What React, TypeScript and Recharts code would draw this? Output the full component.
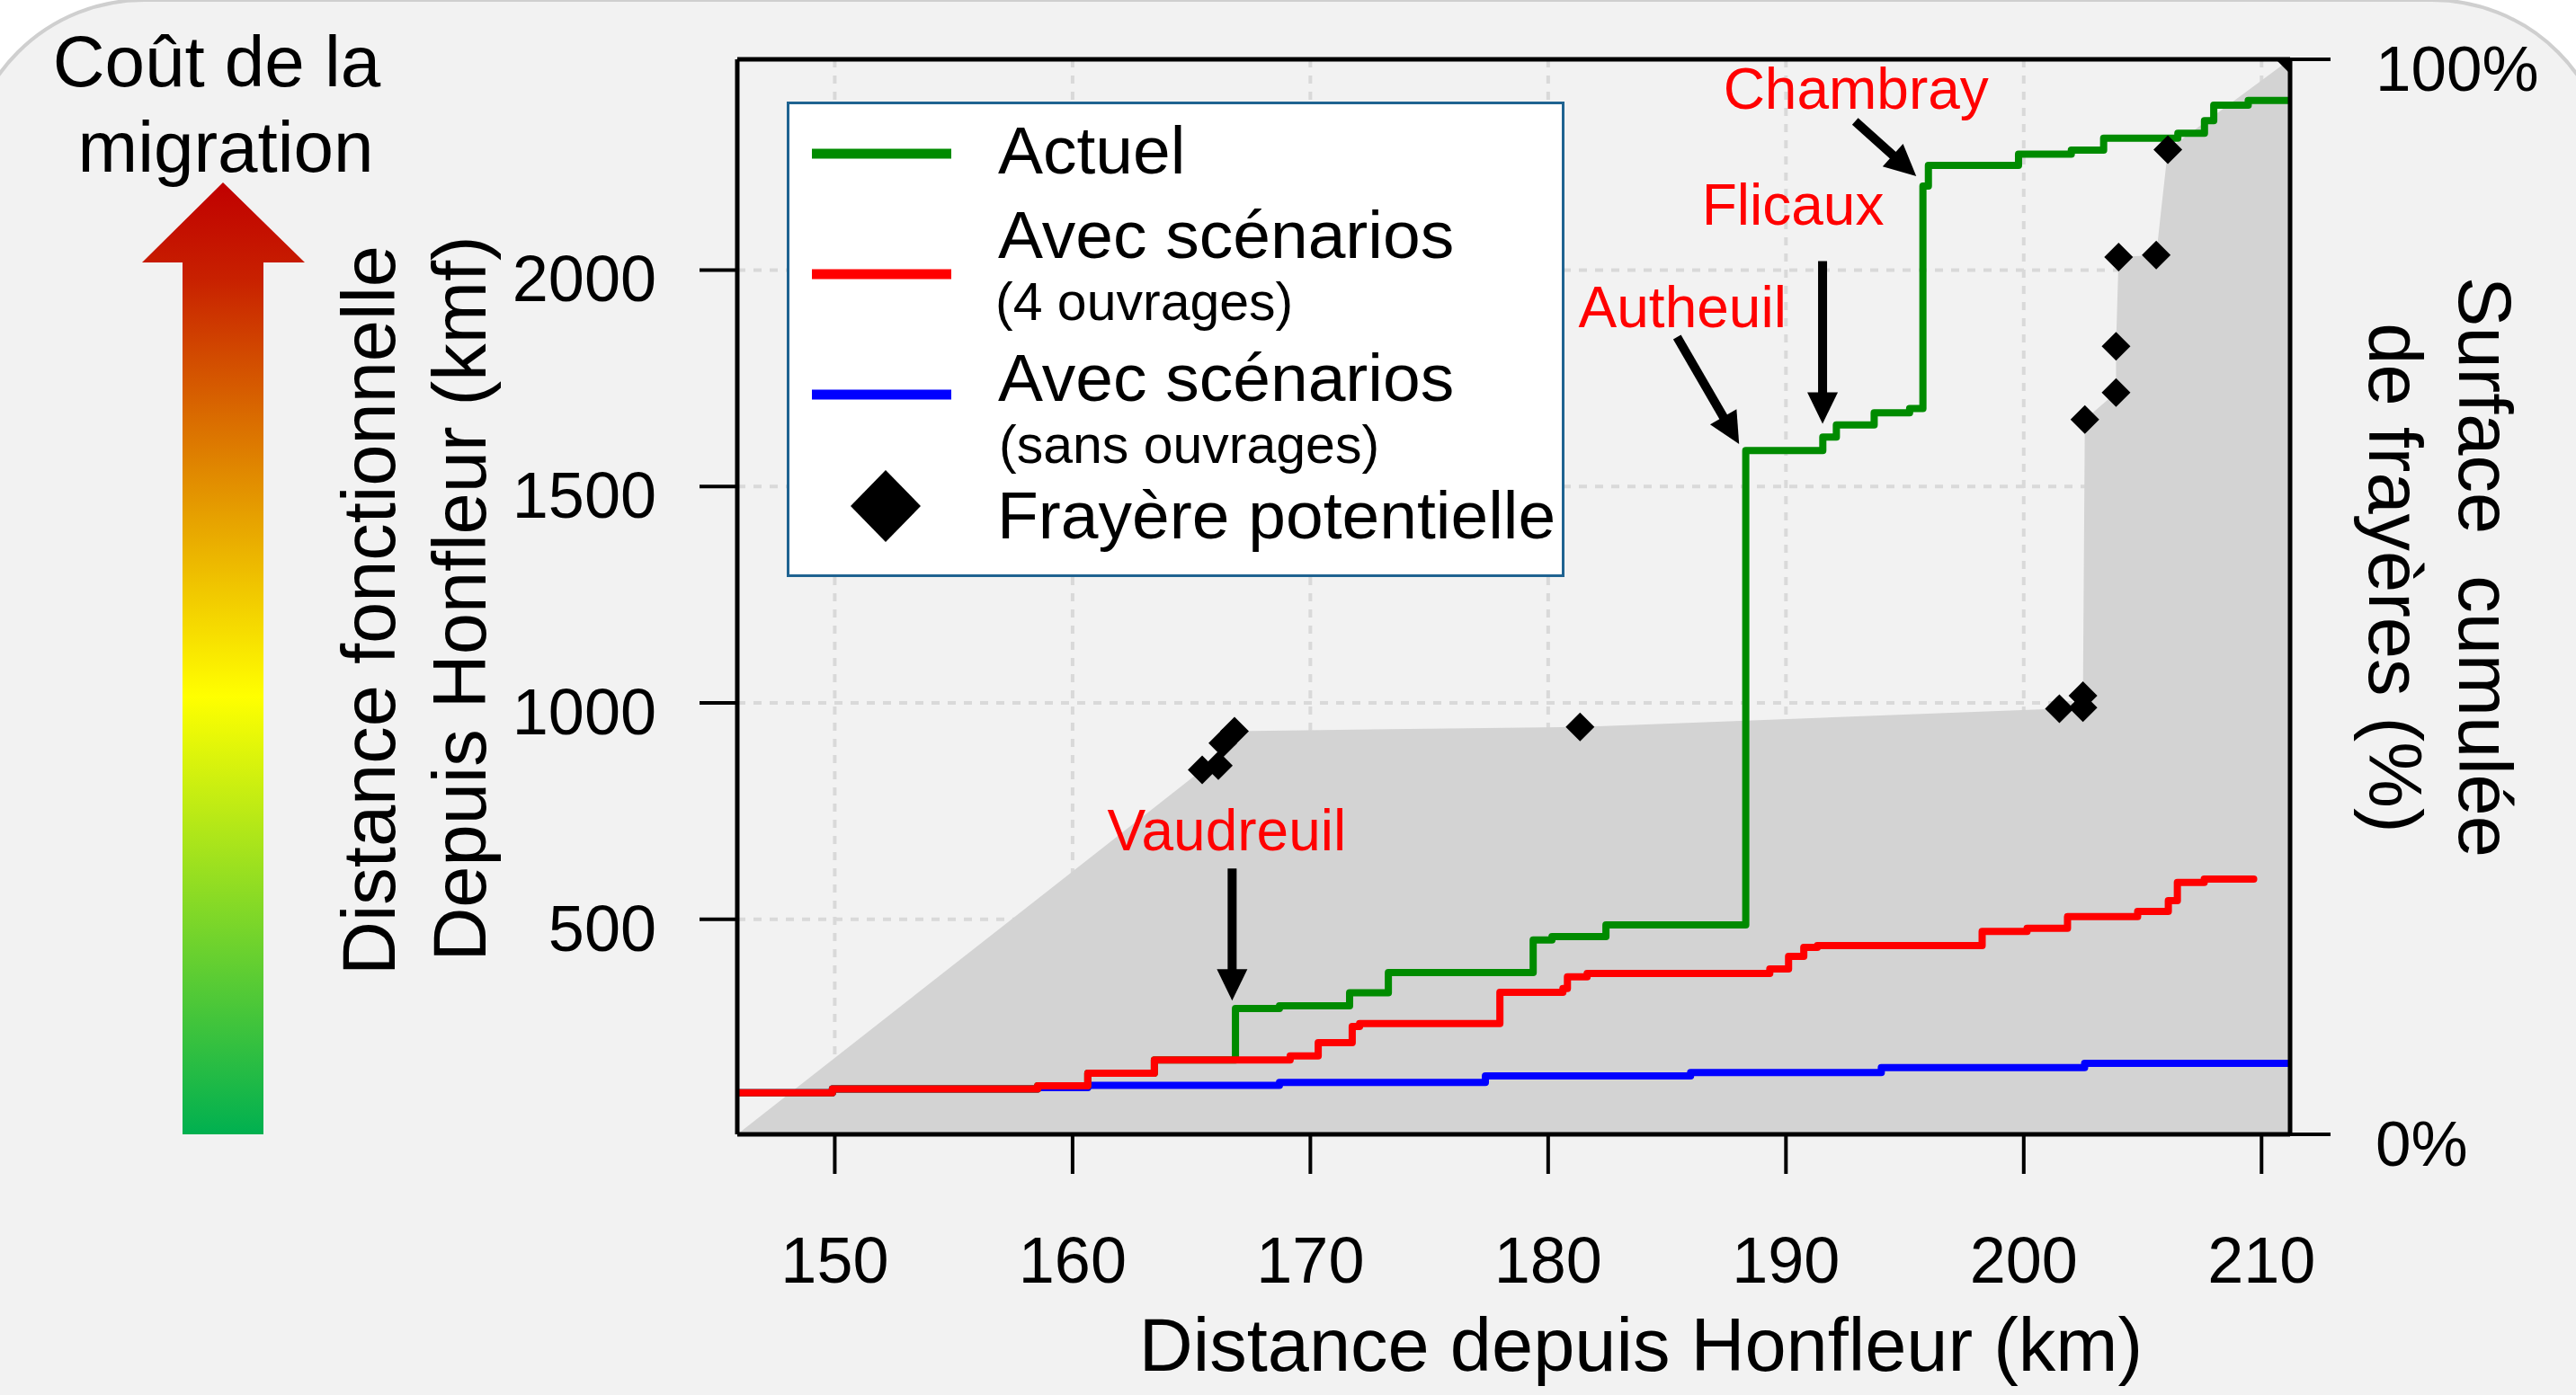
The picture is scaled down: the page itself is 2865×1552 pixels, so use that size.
import React from 'react';
import {
  ComposedChart,
  Line,
  Area,
  Scatter,
  XAxis,
  YAxis,
  CartesianGrid,
  ReferenceLine,
  ReferenceDot,
  Legend,
  Label,
} from 'recharts';

// ---------------- data ----------------
const xTicks = [150, 160, 170, 180, 190, 200, 210];
const yTicks = [500, 1000, 1500, 2000];
const pctTicks = [0, 100];

// "Actuel" – functional distance (kmf) vs distance (km)
const actuel = [
  { x: 145.9, y: 99 }, { x: 149.9, y: 108 }, { x: 158.53, y: 115 }, { x: 160.64, y: 144 },
  { x: 163.44, y: 175 }, { x: 166.85, y: 294 }, { x: 168.7, y: 300 }, { x: 171.65, y: 330 },
  { x: 173.28, y: 377 }, { x: 179.37, y: 452 }, { x: 180.16, y: 460 }, { x: 182.43, y: 487 },
  { x: 188.31, y: 1583 }, { x: 191.55, y: 1614 }, { x: 192.12, y: 1642 }, { x: 193.71, y: 1670 },
  { x: 195.2, y: 1680 }, { x: 195.76, y: 2194 }, { x: 195.99, y: 2242 }, { x: 199.78, y: 2268 },
  { x: 202.0, y: 2277 }, { x: 203.36, y: 2305 }, { x: 206.48, y: 2316 }, { x: 207.6, y: 2345 },
  { x: 207.99, y: 2381 }, { x: 209.44, y: 2392 }, { x: 211.2, y: 2392 },
];

// "Avec scénarios (4 ouvrages)"
const scenario4 = [
  { x: 145.9, y: 99 }, { x: 149.9, y: 108 }, { x: 158.53, y: 115 }, { x: 160.64, y: 144 },
  { x: 163.44, y: 175 }, { x: 169.15, y: 184 }, { x: 170.33, y: 215 }, { x: 171.76, y: 252 },
  { x: 172.07, y: 259 }, { x: 177.97, y: 331 }, { x: 180.62, y: 340 }, { x: 180.81, y: 367 },
  { x: 181.64, y: 375 }, { x: 189.32, y: 385 }, { x: 190.11, y: 414 }, { x: 190.75, y: 435 },
  { x: 191.32, y: 439 }, { x: 198.25, y: 472 }, { x: 200.14, y: 479 }, { x: 201.84, y: 506 },
  { x: 204.79, y: 518 }, { x: 206.08, y: 543 }, { x: 206.46, y: 585 }, { x: 207.59, y: 593 },
  { x: 209.67, y: 593 },
];

// "Avec scénarios (sans ouvrages)"
const scenario0 = [
  { x: 145.9, y: 99 }, { x: 149.9, y: 108 }, { x: 158.53, y: 111 }, { x: 160.64, y: 116 },
  { x: 168.7, y: 123 }, { x: 177.36, y: 138 }, { x: 185.99, y: 146 }, { x: 194.01, y: 157 },
  { x: 202.56, y: 167 }, { x: 211.2, y: 167 },
];

// Frayères potentielles : km, cumulated surface (%)
const frayeres = [
  { x: 165.45, p: 33.9 }, { x: 166.13, p: 34.3 }, { x: 166.32, p: 36.4 }, { x: 166.81, p: 37.5 },
  { x: 181.34, p: 37.9 }, { x: 201.5, p: 39.6 }, { x: 202.49, p: 39.7 }, { x: 202.49, p: 40.8 },
  { x: 202.57, p: 66.5 }, { x: 203.88, p: 69.0 }, { x: 203.88, p: 73.3 }, { x: 203.99, p: 81.6 },
  { x: 205.57, p: 81.8 }, { x: 206.06, p: 91.6 }, { x: 211.2, p: 100 },
];
const surfaceStart = [{ x: 145.9, p: 0 }];
const surface = [...surfaceStart, ...frayeres];

// Ouvrages annotated
const ouvrages = [
  { nom: 'Vaudreuil', km: 166.71, kmf: 312 },
  { nom: 'Autheuil', km: 188.03, kmf: 1598 },
  { nom: 'Flicaux', km: 191.54, kmf: 1645 },
  { nom: 'Chambray', km: 195.48, kmf: 2217 },
];

// ---------------- styling ----------------
const W = 2865;
const H = 1552;
const FONT = '"Liberation Sans", Arial, Helvetica, sans-serif';
const GREEN = '#008b00';
const RED = '#ff0000';
const BLUE = '#0000ff';

const annotStyle: Record<string, { tail: [number, number]; label: [number, number] }> = {
  Vaudreuil: { tail: [0, -147], label: [-6, -167] },
  Autheuil: { tail: [-69, -119], label: [-63, -130] },
  Flicaux: { tail: [0, -181], label: [-33, -221] },
  Chambray: { tail: [-68, -61], label: [-67, -75] },
};

const Arrow = ({ cx, cy, nom }: any) => {
  if (cx == null || cy == null) return null;
  const st = annotStyle[nom];
  const [dx, dy] = st.tail;
  const len = Math.hypot(dx, dy);
  const ux = -dx / len;
  const uy = -dy / len;
  const HL = 35;
  const HW = 17;
  const bx = cx - ux * HL;
  const by = cy - uy * HL;
  const px = -uy;
  const py = ux;
  return (
    <g>
      <line x1={cx + dx} y1={cy + dy} x2={bx + ux * 2} y2={by + uy * 2} stroke="#000" strokeWidth={10} />
      <polygon
        points={`${cx},${cy} ${bx + px * HW},${by + py * HW} ${bx - px * HW},${by - py * HW}`}
        fill="#000"
      />
      <text
        x={cx + st.label[0]}
        y={cy + st.label[1]}
        textAnchor="middle"
        fontSize={64}
        fill={RED}
        fontFamily={FONT}
      >
        {nom}
      </text>
    </g>
  );
};

const Diamond = (props: any) => {
  const { cx, cy } = props;
  if (cx == null || cy == null) return null;
  const r = 16;
  return <polygon points={`${cx},${cy - r} ${cx + r},${cy} ${cx},${cy + r} ${cx - r},${cy}`} fill="#000" />;
};

const LeftTick = (props: any) => {
  const { x, y, payload } = props;
  return (
    <text x={x} y={y + 35} textAnchor="end" fontSize={72} fill="#000" fontFamily={FONT}>
      {payload.value}
    </text>
  );
};

const RightTick = (props: any) => {
  const { x, y, payload } = props;
  return (
    <text x={x} y={y + 35} textAnchor="start" fontSize={71} fill="#000" fontFamily={FONT}>
      {`${payload.value}%`}
    </text>
  );
};

const BottomTick = (props: any) => {
  const { x, y, payload } = props;
  return (
    <text x={x} y={y + 121} textAnchor="middle" fontSize={72} fill="#000" fontFamily={FONT}>
      {payload.value}
    </text>
  );
};

const LeftTitle = () => (
  <g fontFamily={FONT} fontSize={83} fill="#000">
    <text x={439} y={679} textAnchor="middle" transform="rotate(-90, 439, 679)">
      Distance fonctionnelle
    </text>
    <text x={540} y={666} textAnchor="middle" transform="rotate(-90, 540, 666)">
      Depuis Honfleur (kmf)
    </text>
  </g>
);

const RightTitle = () => (
  <g fontFamily={FONT} fontSize={83} fill="#000">
    <text x={2735} y={631} textAnchor="middle" transform="rotate(90, 2735, 631)">
      {'Surface\u00a0\u00a0cumulée'}
    </text>
    <text x={2635} y={643} textAnchor="middle" transform="rotate(90, 2635, 643)">
      de frayères (%)
    </text>
  </g>
);

const BottomTitle = () => (
  <text x={1825} y={1525} textAnchor="middle" fontSize={83} fill="#000" fontFamily={FONT}>
    Distance depuis Honfleur (km)
  </text>
);

const LegendBox = () => (
  <svg width={865} height={529} style={{ display: 'block' }} fontFamily={FONT}>
    <rect x={1.5} y={1.5} width={862} height={526} fill="#fff" stroke="#1f6391" strokeWidth={3} />
    <line x1={28} x2={183} y1={58} y2={58} stroke={GREEN} strokeWidth={11} />
    <text x={235} y={80} fontSize={75} fill="#000">Actuel</text>
    <line x1={28} x2={183} y1={192} y2={192} stroke={RED} strokeWidth={11} />
    <text x={235} y={174} fontSize={75} fill="#000">Avec scénarios</text>
    <text x={232} y={243} fontSize={59} fill="#000">(4 ouvrages)</text>
    <line x1={28} x2={183} y1={326} y2={326} stroke={BLUE} strokeWidth={11} />
    <text x={235} y={333} fontSize={75} fill="#000">Avec scénarios</text>
    <text x={236} y={402} fontSize={59} fill="#000">(sans ouvrages)</text>
    <polygon points="110,410 149,450 110,490 71,450" fill="#000" />
    <text x={234} y={486} fontSize={75} fill="#000">Frayère potentielle</text>
  </svg>
);

const Decorations = () => (
  <svg
    width={W}
    height={H}
    style={{ position: 'absolute', left: 0, top: 0 }}
    fontFamily={FONT}
  >
    <defs>
      <linearGradient id="cost" x1="0" y1="203" x2="0" y2="1262" gradientUnits="userSpaceOnUse">
        <stop offset="0" stopColor="#c00000" />
        <stop offset="0.1" stopColor="#c82000" />
        <stop offset="0.35" stopColor="#e6a000" />
        <stop offset="0.54" stopColor="#ffff00" />
        <stop offset="1" stopColor="#00b050" />
      </linearGradient>
    </defs>
    <polygon
      points="248,203 339,292 293,292 293,1262 203,1262 203,292 158,292"
      fill="url(#cost)"
    />
    <text x={241} y={96} textAnchor="middle" fontSize={80} fill="#000">
      Coût de la
    </text>
    <text x={251} y={191} textAnchor="middle" fontSize={80} fill="#000">
      migration
    </text>
  </svg>
);

export default function App() {
  return (
    <div
      style={{
        position: 'absolute',
        left: 0,
        top: 0,
        width: W,
        height: H,
        overflow: 'hidden',
        background: '#ffffff',
        fontFamily: FONT,
      }}
    >
      <div
        style={{
          position: 'absolute',
          left: -40,
          top: -2,
          width: W + 80,
          height: H + 300,
          borderRadius: 200,
          background: '#f2f2f2',
          border: '4px solid #cfcfcf',
          boxSizing: 'border-box',
        }}
      />
      <Decorations />
      <div style={{ position: 'absolute', left: 0, top: 0 }}>
        <ComposedChart width={W} height={H} margin={{ top: 66, right: 0, bottom: 0, left: 0 }}>
          <CartesianGrid
            yAxisId="left"
            stroke="#d9d9d9"
            strokeWidth={4}
            strokeDasharray="9 9"
          />
          <Area
            data={surface}
            dataKey="p"
            yAxisId="right"
            type="linear"
            fill="#d3d3d3"
            fillOpacity={1}
            stroke="none"
            isAnimationActive={false}
          />
          <Line
            data={scenario0}
            dataKey="y"
            yAxisId="left"
            type="stepAfter"
            stroke={BLUE}
            strokeWidth={8}
            dot={false}
            activeDot={false}
            strokeLinecap="round"
            strokeLinejoin="round"
            isAnimationActive={false}
          />
          <Line
            data={actuel}
            dataKey="y"
            yAxisId="left"
            type="stepAfter"
            stroke={GREEN}
            strokeWidth={8}
            dot={false}
            activeDot={false}
            strokeLinecap="round"
            strokeLinejoin="round"
            isAnimationActive={false}
          />
          <Line
            data={scenario4}
            dataKey="y"
            yAxisId="left"
            type="stepAfter"
            stroke={RED}
            strokeWidth={8}
            dot={false}
            activeDot={false}
            strokeLinecap="round"
            strokeLinejoin="round"
            isAnimationActive={false}
          />
          <Scatter
            data={frayeres}
            dataKey="p"
            yAxisId="right"
            shape={Diamond}
            isAnimationActive={false}
          />
          {ouvrages.map((o) => (
            <ReferenceDot
              key={o.nom}
              x={o.km}
              y={o.kmf}
              yAxisId="left"
              r={0}
              shape={(p: any) => <Arrow {...p} nom={o.nom} />}
            />
          ))}
          <ReferenceLine yAxisId="right" y={100} stroke="#000" strokeWidth={5} />
          <XAxis
            dataKey="x"
            type="number"
            domain={[145.9, 211.2]}
            ticks={xTicks}
            allowDataOverflow
            height={290}
            tickSize={44}
            tickMargin={0}
            axisLine={{ stroke: '#000', strokeWidth: 5 }}
            tickLine={{ stroke: '#000', strokeWidth: 4 }}
            tick={BottomTick}
            interval={0}
          >
            <Label content={BottomTitle} />
          </XAxis>
          <YAxis
            yAxisId="left"
            type="number"
            domain={[3, 2487]}
            ticks={yTicks}
            allowDataOverflow
            width={820}
            tickSize={42}
            tickMargin={48}
            axisLine={{ stroke: '#000', strokeWidth: 5 }}
            tickLine={{ stroke: '#000', strokeWidth: 4 }}
            tick={LeftTick}
            interval={0}
          >
            <Label content={LeftTitle} />
          </YAxis>
          <YAxis
            yAxisId="right"
            orientation="right"
            type="number"
            domain={[0, 100]}
            ticks={pctTicks}
            allowDataOverflow
            width={318}
            tickSize={45}
            tickMargin={50}
            axisLine={{ stroke: '#000', strokeWidth: 5 }}
            tickLine={{ stroke: '#000', strokeWidth: 4 }}
            tick={RightTick}
            interval={0}
          >
            <Label content={RightTitle} />
          </YAxis>
          <Legend
            layout="horizontal"
            verticalAlign="middle"
            align="center"
            content={LegendBox}
            wrapperStyle={{ position: 'absolute', left: 875, top: 113, width: 865, height: 529 }}
          />
        </ComposedChart>
      </div>
    </div>
  );
}
